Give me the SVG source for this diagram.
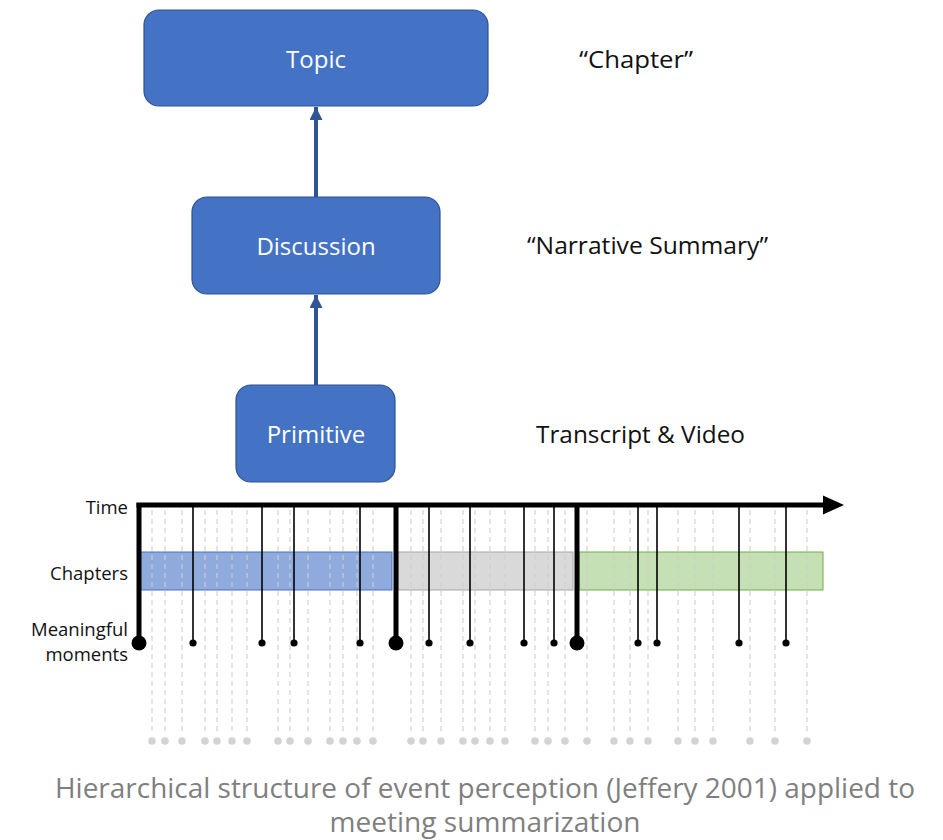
<svg xmlns="http://www.w3.org/2000/svg" width="943" height="840" viewBox="0 0 943 840">
<style>
.box{fill:#4472c4;stroke:#2f528f;stroke-width:1.2}
.nt{font-family:"Open Sans","Noto Sans",sans-serif;font-size:24px;fill:#ffffff;text-anchor:middle}
.lbl{font-family:"Open Sans","Noto Sans",sans-serif;font-size:24px;fill:#111111}
.side{font-family:"Open Sans","Noto Sans",sans-serif;font-size:18.5px;fill:#111111;text-anchor:end}
.cap{font-family:"Open Sans","Noto Sans",sans-serif;font-size:27px;fill:#7f7f7f;text-anchor:middle}
.dash{stroke:#cfcfcf;stroke-width:1.2;stroke-dasharray:5 4}
.gdot{fill:#cfcfcf}
.thin{stroke:#000;stroke-width:1.6}
.thick{stroke:#000;stroke-width:5}
.conn{stroke:#2f5597;stroke-width:4;fill:none}
</style>
<defs>
<marker id="ah" viewBox="0 0 10 10" refX="10" refY="5" markerWidth="13" markerHeight="13" markerUnits="userSpaceOnUse" orient="auto">
<path d="M0,0 L10,5 L0,10 z" fill="#2f5597"/>
</marker>
</defs>

<g id="connectors">
<line class="conn" x1="316" y1="197" x2="316" y2="107" marker-end="url(#ah)"/>
<line class="conn" x1="316" y1="385" x2="316" y2="295" marker-end="url(#ah)"/>
</g>

<g id="node-topic">
<rect class="box" x="144" y="10" width="344" height="96" rx="15"/>
<text class="nt" x="316" y="68">Topic</text>
</g>
<g id="node-discussion">
<rect class="box" x="192" y="197" width="248" height="97" rx="15"/>
<text class="nt" x="316" y="255">Discussion</text>
</g>
<g id="node-primitive">
<rect class="box" x="236" y="385" width="159" height="97" rx="15"/>
<text class="nt" x="316" y="443">Primitive</text>
</g>

<g id="labels-right">
<text class="lbl" x="579" y="68" textLength="114" lengthAdjust="spacingAndGlyphs">“Chapter”</text>
<text class="lbl" x="527" y="254" textLength="241" lengthAdjust="spacingAndGlyphs">“Narrative Summary”</text>
<text class="lbl" x="536" y="443" textLength="209" lengthAdjust="spacingAndGlyphs">Transcript &amp; Video</text>
</g>

<g id="labels-left">
<text class="side" x="128" y="514">Time</text>
<text class="side" x="128" y="580">Chapters</text>
<text class="side" x="128" y="636">Meaningful</text>
<text class="side" x="128" y="661">moments</text>
</g>

<g id="chapters">
<rect x="140" y="552" width="252" height="38" fill="#8faadc" stroke="#4472c4" stroke-width="1"/>
<rect x="398" y="552" width="175" height="38" fill="#d9d9d9" stroke="#a5a5a5" stroke-width="1"/>
<rect x="579" y="552" width="244" height="38" fill="#c5e0b4" stroke="#70ad47" stroke-width="1"/>
</g>

<g id="ticks" opacity="0.9">
<g class="dash">
<line x1="152" y1="510" x2="152" y2="735"/>
<line x1="165" y1="510" x2="165" y2="735"/>
<line x1="182" y1="510" x2="182" y2="735"/>
<line x1="205" y1="510" x2="205" y2="735"/>
<line x1="217" y1="510" x2="217" y2="735"/>
<line x1="232" y1="510" x2="232" y2="735"/>
<line x1="247" y1="510" x2="247" y2="735"/>
<line x1="278" y1="510" x2="278" y2="735"/>
<line x1="290" y1="510" x2="290" y2="735"/>
<line x1="308" y1="510" x2="308" y2="735"/>
<line x1="330" y1="510" x2="330" y2="735"/>
<line x1="343" y1="510" x2="343" y2="735"/>
<line x1="357" y1="510" x2="357" y2="735"/>
<line x1="373" y1="510" x2="373" y2="735"/>
<line x1="411" y1="510" x2="411" y2="735"/>
<line x1="423" y1="510" x2="423" y2="735"/>
<line x1="441" y1="510" x2="441" y2="735"/>
<line x1="463" y1="510" x2="463" y2="735"/>
<line x1="475" y1="510" x2="475" y2="735"/>
<line x1="490" y1="510" x2="490" y2="735"/>
<line x1="505" y1="510" x2="505" y2="735"/>
<line x1="535" y1="510" x2="535" y2="735"/>
<line x1="548" y1="510" x2="548" y2="735"/>
<line x1="565" y1="510" x2="565" y2="735"/>
<line x1="587" y1="510" x2="587" y2="735"/>
<line x1="614" y1="510" x2="614" y2="735"/>
<line x1="630" y1="510" x2="630" y2="735"/>
<line x1="648" y1="510" x2="648" y2="735"/>
<line x1="678" y1="510" x2="678" y2="735"/>
<line x1="695" y1="510" x2="695" y2="735"/>
<line x1="713" y1="510" x2="713" y2="735"/>
<line x1="750" y1="510" x2="750" y2="735"/>
<line x1="775" y1="510" x2="775" y2="735"/>
<line x1="807" y1="510" x2="807" y2="735"/>
</g>
<g class="gdot">
<circle cx="152" cy="741" r="3.8"/><circle cx="165" cy="741" r="3.8"/><circle cx="182" cy="741" r="3.8"/>
<circle cx="205" cy="741" r="3.8"/><circle cx="217" cy="741" r="3.8"/><circle cx="232" cy="741" r="3.8"/>
<circle cx="247" cy="741" r="3.8"/><circle cx="278" cy="741" r="3.8"/><circle cx="290" cy="741" r="3.8"/>
<circle cx="308" cy="741" r="3.8"/><circle cx="330" cy="741" r="3.8"/><circle cx="343" cy="741" r="3.8"/>
<circle cx="357" cy="741" r="3.8"/><circle cx="373" cy="741" r="3.8"/><circle cx="411" cy="741" r="3.8"/>
<circle cx="423" cy="741" r="3.8"/><circle cx="441" cy="741" r="3.8"/><circle cx="463" cy="741" r="3.8"/>
<circle cx="475" cy="741" r="3.8"/><circle cx="490" cy="741" r="3.8"/><circle cx="505" cy="741" r="3.8"/>
<circle cx="535" cy="741" r="3.8"/><circle cx="548" cy="741" r="3.8"/><circle cx="565" cy="741" r="3.8"/>
<circle cx="587" cy="741" r="3.8"/><circle cx="614" cy="741" r="3.8"/><circle cx="630" cy="741" r="3.8"/>
<circle cx="648" cy="741" r="3.8"/><circle cx="678" cy="741" r="3.8"/><circle cx="695" cy="741" r="3.8"/>
<circle cx="713" cy="741" r="3.8"/><circle cx="750" cy="741" r="3.8"/><circle cx="775" cy="741" r="3.8"/>
<circle cx="807" cy="741" r="3.8"/>
</g>
</g>

<g id="moments">
<g class="thin">
<line x1="193" y1="505" x2="193" y2="643"/>
<line x1="262" y1="505" x2="262" y2="643"/>
<line x1="294" y1="505" x2="294" y2="643"/>
<line x1="360" y1="505" x2="360" y2="643"/>
<line x1="429" y1="505" x2="429" y2="643"/>
<line x1="470" y1="505" x2="470" y2="643"/>
<line x1="524" y1="505" x2="524" y2="643"/>
<line x1="554" y1="505" x2="554" y2="643"/>
<line x1="638" y1="505" x2="638" y2="643"/>
<line x1="657" y1="505" x2="657" y2="643"/>
<line x1="739" y1="505" x2="739" y2="643"/>
<line x1="786" y1="505" x2="786" y2="643"/>
</g>
<g fill="#000">
<circle cx="193" cy="643" r="3.6"/><circle cx="262" cy="643" r="3.6"/><circle cx="294" cy="643" r="3.6"/>
<circle cx="360" cy="643" r="3.6"/><circle cx="429" cy="643" r="3.6"/><circle cx="470" cy="643" r="3.6"/>
<circle cx="524" cy="643" r="3.6"/><circle cx="554" cy="643" r="3.6"/><circle cx="638" cy="643" r="3.6"/>
<circle cx="657" cy="643" r="3.6"/><circle cx="739" cy="643" r="3.6"/><circle cx="786" cy="643" r="3.6"/>
</g>
<g class="thick">
<line x1="139" y1="503" x2="139" y2="643"/>
<line x1="396" y1="505" x2="396" y2="643"/>
<line x1="577" y1="505" x2="577" y2="643"/>
</g>
<g fill="#000">
<circle cx="139" cy="643" r="7.5"/><circle cx="396" cy="643" r="7.5"/><circle cx="577" cy="643" r="7.5"/>
</g>
</g>

<g id="time-axis">
<line x1="136.5" y1="505" x2="825" y2="505" stroke="#000" stroke-width="5"/>
<polygon points="823,495.5 844,505 823,514.5" fill="#000"/>
</g>

<g id="caption">
<text class="cap" x="485" y="798" textLength="860" lengthAdjust="spacingAndGlyphs">Hierarchical structure of event perception (Jeffery 2001) applied to</text>
<text class="cap" x="485" y="832" textLength="311" lengthAdjust="spacingAndGlyphs">meeting summarization</text>
</g>
</svg>
